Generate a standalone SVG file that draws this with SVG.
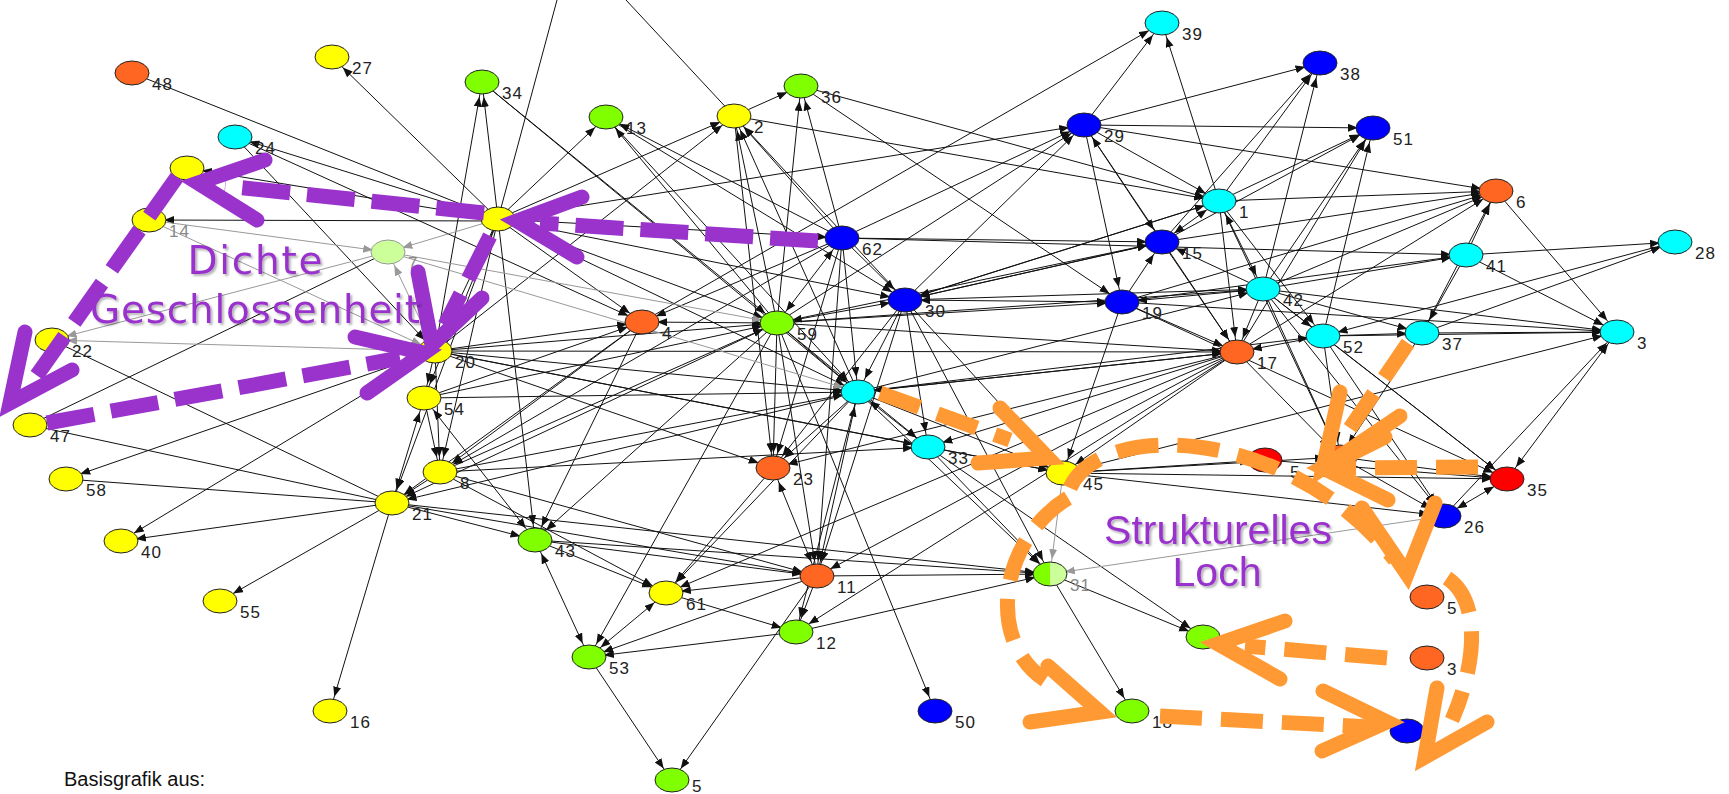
<svg xmlns="http://www.w3.org/2000/svg" width="1729" height="794" viewBox="0 0 1729 794">
<style>
.e{stroke:#111;stroke-width:1;marker-end:url(#ar)}
.b{stroke:#111;stroke-width:1;marker-end:url(#ar);marker-start:url(#ar)}
.n{stroke:#111;stroke-width:1}
.g{stroke:#999;stroke-width:1;marker-end:url(#ag)}
ellipse{stroke:#222;stroke-width:1}
.y{fill:#FFFF00}.o{fill:#FF6622}.gr{fill:#80FF00}.c{fill:#00FFFF}.bl{fill:#0000FF}.r{fill:#FF0000}
text.l{font-family:"Liberation Sans",Arial,sans-serif;font-size:17px;letter-spacing:1px;fill:#222}
text.lg{fill:#888}
.pd{fill:none;stroke:#9933CC;stroke-width:15;stroke-dasharray:48 17}
.pc{fill:none;stroke:#9933CC;stroke-width:15;stroke-linecap:round;stroke-linejoin:miter}
.od{fill:none;stroke:#FF9933;stroke-width:15;stroke-dasharray:42 19}
.oc{fill:none;stroke:#FF9933;stroke-width:15;stroke-linecap:round;stroke-linejoin:miter}
.pt{font-family:"DejaVu Sans",sans-serif;font-size:39px;fill:#9933CC;filter:url(#sh)}
.st{font-family:"Liberation Sans",Arial,sans-serif;font-size:41px;fill:#9933CC;filter:url(#sh)}
</style>
<defs>
<marker id="ar" markerUnits="userSpaceOnUse" markerWidth="30" markerHeight="10" refX="25" refY="4" orient="auto-start-reverse"><path d="M0,0 L10,4 L0,8 z" fill="#111"/></marker>
<marker id="ag" markerUnits="userSpaceOnUse" markerWidth="30" markerHeight="10" refX="25" refY="4" orient="auto"><path d="M0,0 L10,4 L0,8 z" fill="#999"/></marker>
<linearGradient id="half" x1="0" x2="1" y1="0" y2="0"><stop offset="0.5" stop-color="#80FF00"/><stop offset="0.5" stop-color="#CCFF99"/></linearGradient>
<filter id="sh" x="-10%" y="-20%" width="120%" height="150%"><feDropShadow dx="2" dy="2" stdDeviation="1.2" flood-color="#000" flood-opacity="0.3"/></filter>
</defs>
<rect width="1729" height="794" fill="#fff"/>
<g id="edges">
<line class="n" x1="132" y1="73" x2="498" y2="219"/>
<line class="n" x1="30" y1="425" x2="388" y2="252"/>
<line class="n" x1="30" y1="425" x2="392" y2="503"/>
<line class="n" x1="52" y1="340" x2="392" y2="503"/>
<line class="n" x1="66" y1="479" x2="392" y2="503"/>
<line class="n" x1="557" y1="0" x2="498" y2="219"/>
<line class="n" x1="626" y1="0" x2="734" y2="116"/>
<line class="e" x1="498" y1="219" x2="332" y2="57"/>
<line class="e" x1="498" y1="219" x2="235" y2="137"/>
<line class="e" x1="235" y1="137" x2="642" y2="322"/>
<line class="e" x1="498" y1="219" x2="187" y2="168"/>
<line class="e" x1="498" y1="221" x2="149" y2="220"/>
<line class="e" x1="235" y1="137" x2="435" y2="351"/>
<line class="e" x1="435" y1="351" x2="66" y2="479"/>
<line class="e" x1="435" y1="351" x2="121" y2="541"/>
<line class="e" x1="392" y1="503" x2="121" y2="541"/>
<line class="e" x1="392" y1="503" x2="220" y2="601"/>
<line class="e" x1="392" y1="503" x2="330" y2="711"/>
<line class="e" x1="440" y1="472" x2="392" y2="503"/>
<line class="e" x1="642" y1="322" x2="392" y2="503"/>
<line class="e" x1="777" y1="323" x2="392" y2="503"/>
<line class="e" x1="858" y1="392" x2="392" y2="503"/>
<line class="e" x1="392" y1="503" x2="535" y2="540"/>
<line class="e" x1="392" y1="503" x2="817" y2="576"/>
<line class="e" x1="392" y1="503" x2="1050" y2="574"/>
<line class="e" x1="498" y1="219" x2="435" y2="351"/>
<line class="e" x1="498" y1="219" x2="424" y2="398"/>
<line class="e" x1="498" y1="219" x2="440" y2="472"/>
<line class="e" x1="498" y1="219" x2="392" y2="503"/>
<line class="e" x1="498" y1="219" x2="535" y2="540"/>
<line class="e" x1="435" y1="351" x2="482" y2="82"/>
<line class="e" x1="498" y1="219" x2="482" y2="82"/>
<line class="e" x1="498" y1="219" x2="606" y2="117"/>
<line class="e" x1="498" y1="219" x2="734" y2="116"/>
<line class="e" x1="498" y1="219" x2="642" y2="322"/>
<line class="e" x1="498" y1="219" x2="777" y2="323"/>
<line class="e" x1="498" y1="219" x2="858" y2="392"/>
<line class="e" x1="498" y1="219" x2="905" y2="300"/>
<line class="e" x1="498" y1="219" x2="1084" y2="125"/>
<line class="e" x1="435" y1="351" x2="642" y2="322"/>
<line class="e" x1="435" y1="351" x2="777" y2="323"/>
<line class="e" x1="435" y1="351" x2="858" y2="392"/>
<line class="e" x1="435" y1="351" x2="773" y2="468"/>
<line class="e" x1="435" y1="351" x2="928" y2="447"/>
<line class="e" x1="435" y1="351" x2="1063" y2="473"/>
<line class="e" x1="435" y1="351" x2="1237" y2="352"/>
<line class="e" x1="435" y1="351" x2="734" y2="116"/>
<line class="e" x1="424" y1="398" x2="858" y2="392"/>
<line class="e" x1="424" y1="398" x2="642" y2="322"/>
<line class="e" x1="424" y1="398" x2="777" y2="323"/>
<line class="e" x1="440" y1="472" x2="858" y2="392"/>
<line class="e" x1="440" y1="472" x2="928" y2="447"/>
<line class="e" x1="440" y1="472" x2="777" y2="323"/>
<line class="e" x1="642" y1="322" x2="440" y2="472"/>
<line class="e" x1="440" y1="472" x2="817" y2="576"/>
<line class="e" x1="440" y1="472" x2="666" y2="593"/>
<line class="e" x1="424" y1="398" x2="440" y2="472"/>
<line class="e" x1="435" y1="351" x2="424" y2="398"/>
<line class="e" x1="435" y1="351" x2="440" y2="472"/>
<line class="e" x1="842" y1="238" x2="642" y2="322"/>
<line class="e" x1="642" y1="322" x2="1162" y2="23"/>
<line class="e" x1="642" y1="322" x2="535" y2="540"/>
<line class="e" x1="777" y1="323" x2="734" y2="116"/>
<line class="e" x1="842" y1="238" x2="734" y2="116"/>
<line class="e" x1="858" y1="392" x2="734" y2="116"/>
<line class="e" x1="777" y1="323" x2="606" y2="117"/>
<line class="e" x1="842" y1="238" x2="606" y2="117"/>
<line class="e" x1="606" y1="117" x2="858" y2="392"/>
<line class="e" x1="606" y1="117" x2="905" y2="300"/>
<line class="e" x1="734" y1="116" x2="801" y2="86"/>
<line class="e" x1="777" y1="323" x2="801" y2="86"/>
<line class="e" x1="842" y1="238" x2="801" y2="86"/>
<line class="e" x1="801" y1="86" x2="1219" y2="201"/>
<line class="e" x1="801" y1="86" x2="1122" y2="302"/>
<line class="e" x1="482" y1="82" x2="777" y2="323"/>
<line class="e" x1="482" y1="82" x2="858" y2="392"/>
<line class="e" x1="734" y1="116" x2="1219" y2="201"/>
<line class="e" x1="777" y1="323" x2="858" y2="392"/>
<line class="e" x1="777" y1="323" x2="773" y2="468"/>
<line class="e" x1="734" y1="116" x2="773" y2="468"/>
<line class="e" x1="777" y1="323" x2="817" y2="576"/>
<line class="e" x1="777" y1="323" x2="935" y2="711"/>
<line class="e" x1="777" y1="323" x2="1162" y2="242"/>
<line class="e" x1="777" y1="323" x2="1122" y2="302"/>
<line class="e" x1="777" y1="323" x2="1084" y2="125"/>
<line class="e" x1="777" y1="323" x2="535" y2="540"/>
<line class="e" x1="777" y1="323" x2="589" y2="657"/>
<line class="e" x1="777" y1="323" x2="928" y2="447"/>
<line class="e" x1="777" y1="323" x2="1263" y2="289"/>
<line class="e" x1="777" y1="323" x2="1237" y2="352"/>
<line class="e" x1="842" y1="238" x2="905" y2="300"/>
<line class="e" x1="842" y1="238" x2="858" y2="392"/>
<line class="e" x1="842" y1="238" x2="1084" y2="125"/>
<line class="e" x1="842" y1="238" x2="1162" y2="242"/>
<line class="e" x1="842" y1="238" x2="1466" y2="255"/>
<line class="e" x1="842" y1="238" x2="440" y2="472"/>
<line class="e" x1="842" y1="238" x2="817" y2="576"/>
<line class="e" x1="842" y1="238" x2="773" y2="468"/>
<line class="e" x1="858" y1="392" x2="773" y2="468"/>
<line class="e" x1="858" y1="392" x2="1063" y2="473"/>
<line class="e" x1="858" y1="392" x2="1237" y2="352"/>
<line class="e" x1="858" y1="392" x2="1323" y2="336"/>
<line class="e" x1="858" y1="392" x2="1263" y2="289"/>
<line class="e" x1="905" y1="300" x2="858" y2="392"/>
<line class="e" x1="858" y1="392" x2="666" y2="593"/>
<line class="e" x1="858" y1="392" x2="796" y2="632"/>
<line class="e" x1="858" y1="392" x2="1050" y2="574"/>
<line class="e" x1="905" y1="300" x2="1162" y2="242"/>
<line class="e" x1="905" y1="300" x2="1263" y2="289"/>
<line class="e" x1="905" y1="300" x2="1084" y2="125"/>
<line class="e" x1="905" y1="300" x2="817" y2="576"/>
<line class="e" x1="905" y1="300" x2="1050" y2="574"/>
<line class="e" x1="905" y1="300" x2="1063" y2="473"/>
<line class="e" x1="905" y1="300" x2="928" y2="447"/>
<line class="e" x1="905" y1="300" x2="734" y2="116"/>
<line class="e" x1="905" y1="300" x2="1219" y2="201"/>
<line class="e" x1="905" y1="300" x2="773" y2="468"/>
<line class="e" x1="1084" y1="125" x2="1162" y2="23"/>
<line class="e" x1="1084" y1="125" x2="1320" y2="63"/>
<line class="e" x1="1084" y1="125" x2="1373" y2="128"/>
<line class="e" x1="1084" y1="125" x2="1496" y2="191"/>
<line class="e" x1="1084" y1="125" x2="1122" y2="302"/>
<line class="e" x1="1084" y1="125" x2="1219" y2="201"/>
<line class="e" x1="1084" y1="125" x2="1237" y2="352"/>
<line class="e" x1="1219" y1="201" x2="1162" y2="23"/>
<line class="e" x1="1219" y1="201" x2="1320" y2="63"/>
<line class="e" x1="1219" y1="201" x2="1373" y2="128"/>
<line class="e" x1="1219" y1="201" x2="1496" y2="191"/>
<line class="e" x1="1219" y1="201" x2="1237" y2="352"/>
<line class="e" x1="1219" y1="201" x2="1340" y2="457"/>
<line class="e" x1="1219" y1="201" x2="1323" y2="336"/>
<line class="e" x1="1219" y1="201" x2="905" y2="300"/>
<line class="e" x1="1162" y1="242" x2="1320" y2="63"/>
<line class="e" x1="1162" y1="242" x2="1373" y2="128"/>
<line class="e" x1="1162" y1="242" x2="1496" y2="191"/>
<line class="e" x1="1162" y1="242" x2="905" y2="300"/>
<line class="e" x1="1122" y1="302" x2="1162" y2="242"/>
<line class="e" x1="1162" y1="242" x2="1237" y2="352"/>
<line class="e" x1="1263" y1="289" x2="1162" y2="242"/>
<line class="e" x1="1263" y1="289" x2="1373" y2="128"/>
<line class="e" x1="1237" y1="352" x2="1373" y2="128"/>
<line class="e" x1="1323" y1="336" x2="1373" y2="128"/>
<line class="e" x1="1263" y1="289" x2="1320" y2="63"/>
<line class="e" x1="1263" y1="289" x2="1496" y2="191"/>
<line class="e" x1="1263" y1="289" x2="1466" y2="255"/>
<line class="e" x1="1263" y1="289" x2="1237" y2="352"/>
<line class="e" x1="1263" y1="289" x2="1122" y2="302"/>
<line class="e" x1="1263" y1="289" x2="1323" y2="336"/>
<line class="e" x1="1263" y1="289" x2="1422" y2="333"/>
<line class="e" x1="1263" y1="289" x2="1340" y2="457"/>
<line class="e" x1="1263" y1="289" x2="1444" y2="516"/>
<line class="e" x1="1263" y1="289" x2="1507" y2="479"/>
<line class="e" x1="1263" y1="289" x2="1617" y2="332"/>
<line class="e" x1="1122" y1="302" x2="1237" y2="352"/>
<line class="e" x1="1122" y1="302" x2="1466" y2="255"/>
<line class="e" x1="1122" y1="302" x2="1496" y2="191"/>
<line class="e" x1="1122" y1="302" x2="1617" y2="332"/>
<line class="e" x1="1122" y1="302" x2="1507" y2="479"/>
<line class="e" x1="1122" y1="302" x2="1063" y2="473"/>
<line class="e" x1="1237" y1="352" x2="817" y2="576"/>
<line class="e" x1="1237" y1="352" x2="1063" y2="473"/>
<line class="e" x1="1237" y1="352" x2="773" y2="468"/>
<line class="e" x1="1237" y1="352" x2="928" y2="447"/>
<line class="e" x1="1237" y1="352" x2="666" y2="593"/>
<line class="e" x1="1237" y1="352" x2="796" y2="632"/>
<line class="e" x1="1237" y1="352" x2="858" y2="392"/>
<line class="e" x1="1237" y1="352" x2="1340" y2="457"/>
<line class="e" x1="1237" y1="352" x2="1496" y2="191"/>
<line class="e" x1="1323" y1="336" x2="1422" y2="333"/>
<line class="e" x1="1323" y1="336" x2="1617" y2="332"/>
<line class="e" x1="1323" y1="336" x2="1507" y2="479"/>
<line class="e" x1="1323" y1="336" x2="1444" y2="516"/>
<line class="e" x1="1323" y1="336" x2="1340" y2="457"/>
<line class="e" x1="1323" y1="336" x2="1237" y2="352"/>
<line class="e" x1="1422" y1="333" x2="1617" y2="332"/>
<line class="e" x1="1422" y1="333" x2="1675" y2="242"/>
<line class="e" x1="1422" y1="333" x2="1340" y2="457"/>
<line class="e" x1="1422" y1="333" x2="1496" y2="191"/>
<line class="e" x1="1466" y1="255" x2="1675" y2="242"/>
<line class="e" x1="1466" y1="255" x2="1422" y2="333"/>
<line class="e" x1="1466" y1="255" x2="1496" y2="191"/>
<line class="e" x1="1466" y1="255" x2="1617" y2="332"/>
<line class="e" x1="1675" y1="242" x2="1323" y2="336"/>
<line class="e" x1="1496" y1="191" x2="1617" y2="332"/>
<line class="e" x1="1340" y1="457" x2="1507" y2="479"/>
<line class="e" x1="1340" y1="457" x2="1444" y2="516"/>
<line class="e" x1="1063" y1="473" x2="1340" y2="457"/>
<line class="e" x1="1063" y1="473" x2="1265" y2="460"/>
<line class="e" x1="1063" y1="473" x2="1444" y2="516"/>
<line class="e" x1="1063" y1="473" x2="1507" y2="479"/>
<line class="e" x1="1063" y1="473" x2="1617" y2="332"/>
<line class="e" x1="928" y1="447" x2="1063" y2="473"/>
<line class="e" x1="928" y1="447" x2="1203" y2="637"/>
<line class="e" x1="928" y1="447" x2="1050" y2="574"/>
<line class="e" x1="1050" y1="574" x2="1132" y2="711"/>
<line class="e" x1="1050" y1="574" x2="1203" y2="637"/>
<line class="e" x1="817" y1="576" x2="796" y2="632"/>
<line class="e" x1="817" y1="576" x2="672" y2="781"/>
<line class="e" x1="817" y1="576" x2="589" y2="657"/>
<line class="e" x1="817" y1="576" x2="666" y2="593"/>
<line class="e" x1="817" y1="576" x2="1050" y2="574"/>
<line class="e" x1="796" y1="632" x2="589" y2="657"/>
<line class="e" x1="666" y1="593" x2="796" y2="632"/>
<line class="e" x1="796" y1="632" x2="1050" y2="574"/>
<line class="e" x1="535" y1="540" x2="666" y2="593"/>
<line class="e" x1="535" y1="540" x2="817" y2="576"/>
<line class="e" x1="535" y1="540" x2="1050" y2="574"/>
<line class="e" x1="589" y1="657" x2="672" y2="781"/>
<line class="e" x1="773" y1="468" x2="666" y2="593"/>
<line class="e" x1="1265" y1="460" x2="1507" y2="479"/>
<line class="e" x1="1444" y1="516" x2="1617" y2="332"/>
<line class="b" x1="1617" y1="332" x2="1507" y2="479"/>
<line class="b" x1="1507" y1="479" x2="1444" y2="516"/>
<line class="b" x1="424" y1="398" x2="392" y2="503"/>
<line class="b" x1="424" y1="398" x2="535" y2="540"/>
<line class="b" x1="535" y1="540" x2="589" y2="657"/>
<line class="b" x1="666" y1="593" x2="589" y2="657"/>
<line class="b" x1="642" y1="322" x2="777" y2="323"/>
<line class="b" x1="777" y1="323" x2="842" y2="238"/>
<line class="b" x1="777" y1="323" x2="905" y2="300"/>
<line class="b" x1="905" y1="300" x2="1122" y2="302"/>
<line class="b" x1="1084" y1="125" x2="1162" y2="242"/>
<line class="b" x1="1219" y1="201" x2="1162" y2="242"/>
<line class="b" x1="1219" y1="201" x2="1263" y2="289"/>
<line class="b" x1="858" y1="392" x2="928" y2="447"/>
<line class="b" x1="817" y1="576" x2="773" y2="468"/>
<line class="b" x1="817" y1="576" x2="858" y2="392"/>
<line class="b" x1="498" y1="219" x2="842" y2="238"/>
<line class="g" x1="149" y1="220" x2="388" y2="252"/>
<line class="g" x1="149" y1="220" x2="435" y2="351"/>
<line class="g" x1="388" y1="252" x2="52" y2="340"/>
<line class="g" x1="435" y1="351" x2="388" y2="252"/>
<line class="g" x1="388" y1="252" x2="777" y2="323"/>
<line class="g" x1="388" y1="252" x2="858" y2="392"/>
<line class="g" x1="435" y1="351" x2="52" y2="340"/>
<line class="g" x1="1063" y1="473" x2="1050" y2="574"/>
<line class="g" x1="1444" y1="516" x2="1050" y2="574"/>
<line class="g" x1="498" y1="219" x2="388" y2="252"/>
</g>
<g id="n48"><ellipse class="o" cx="132" cy="73" rx="17" ry="12"/><text class="l" x="152" y="90">48</text></g>
<g id="n27"><ellipse class="y" cx="332" cy="57" rx="17" ry="12"/><text class="l" x="352" y="74">27</text></g>
<g id="n24"><ellipse class="c" cx="235" cy="137" rx="17" ry="12"/><text class="l" x="255" y="154">24</text></g>
<g id="nA"><ellipse class="y" cx="187" cy="168" rx="17" ry="12"/></g>
<g id="n14"><ellipse class="y" cx="149" cy="220" rx="17" ry="12"/><text class="l lg" x="169" y="237">14</text></g>
<g id="n7"><ellipse cx="388" cy="252" rx="17" ry="12" fill="#CCFF99" style="stroke:#999"/><text class="l lg" x="408" y="269">7</text></g>
<g id="n34"><ellipse class="gr" cx="482" cy="82" rx="17" ry="12"/><text class="l" x="502" y="99">34</text></g>
<g id="n13"><ellipse class="gr" cx="606" cy="117" rx="17" ry="12"/><text class="l" x="626" y="134">13</text></g>
<g id="n2"><ellipse class="y" cx="734" cy="116" rx="17" ry="12"/><text class="l" x="754" y="133">2</text></g>
<g id="n36"><ellipse class="gr" cx="801" cy="86" rx="17" ry="12"/><text class="l" x="821" y="103">36</text></g>
<g id="nH"><ellipse class="y" cx="498" cy="219" rx="17" ry="12"/></g>
<g id="n62"><ellipse class="bl" cx="842" cy="238" rx="17" ry="12"/><text class="l" x="862" y="255">62</text></g>
<g id="n39"><ellipse class="c" cx="1162" cy="23" rx="17" ry="12"/><text class="l" x="1182" y="40">39</text></g>
<g id="n29"><ellipse class="bl" cx="1084" cy="125" rx="17" ry="12"/><text class="l" x="1104" y="142">29</text></g>
<g id="n1"><ellipse class="c" cx="1219" cy="201" rx="17" ry="12"/><text class="l" x="1239" y="218">1</text></g>
<g id="n15"><ellipse class="bl" cx="1162" cy="242" rx="17" ry="12"/><text class="l" x="1182" y="259">15</text></g>
<g id="n38"><ellipse class="bl" cx="1320" cy="63" rx="17" ry="12"/><text class="l" x="1340" y="80">38</text></g>
<g id="n51"><ellipse class="bl" cx="1373" cy="128" rx="17" ry="12"/><text class="l" x="1393" y="145">51</text></g>
<g id="n6"><ellipse class="o" cx="1496" cy="191" rx="17" ry="12"/><text class="l" x="1516" y="208">6</text></g>
<g id="n28"><ellipse class="c" cx="1675" cy="242" rx="17" ry="12"/><text class="l" x="1695" y="259">28</text></g>
<g id="n41"><ellipse class="c" cx="1466" cy="255" rx="17" ry="12"/><text class="l" x="1486" y="272">41</text></g>
<g id="n22"><ellipse class="y" cx="52" cy="340" rx="17" ry="12"/><text class="l" x="72" y="357">22</text></g>
<g id="n47"><ellipse class="y" cx="30" cy="425" rx="17" ry="12"/><text class="l" x="50" y="442">47</text></g>
<g id="n58"><ellipse class="y" cx="66" cy="479" rx="17" ry="12"/><text class="l" x="86" y="496">58</text></g>
<g id="n21"><ellipse class="y" cx="392" cy="503" rx="17" ry="12"/><text class="l" x="412" y="520">21</text></g>
<g id="n20"><ellipse class="y" cx="435" cy="351" rx="17" ry="12"/><text class="l" x="455" y="368">20</text></g>
<g id="n54"><ellipse class="y" cx="424" cy="398" rx="17" ry="12"/><text class="l" x="444" y="415">54</text></g>
<g id="n8"><ellipse class="y" cx="440" cy="472" rx="17" ry="12"/><text class="l" x="460" y="489">8</text></g>
<g id="n4"><ellipse class="o" cx="642" cy="322" rx="17" ry="12"/><text class="l" x="662" y="339">4</text></g>
<g id="n59"><ellipse class="gr" cx="777" cy="323" rx="17" ry="12"/><text class="l" x="797" y="340">59</text></g>
<g id="n23"><ellipse class="o" cx="773" cy="468" rx="17" ry="12"/><text class="l" x="793" y="485">23</text></g>
<g id="nC"><ellipse class="c" cx="858" cy="392" rx="17" ry="12"/></g>
<g id="n30"><ellipse class="bl" cx="905" cy="300" rx="17" ry="12"/><text class="l" x="925" y="317">30</text></g>
<g id="n19"><ellipse class="bl" cx="1122" cy="302" rx="17" ry="12"/><text class="l" x="1142" y="319">19</text></g>
<g id="n42"><ellipse class="c" cx="1263" cy="289" rx="17" ry="12"/><text class="l" x="1283" y="306">42</text></g>
<g id="n17"><ellipse class="o" cx="1237" cy="352" rx="17" ry="12"/><text class="l" x="1257" y="369">17</text></g>
<g id="n33"><ellipse class="c" cx="928" cy="447" rx="17" ry="12"/><text class="l" x="948" y="464">33</text></g>
<g id="n45"><ellipse class="y" cx="1063" cy="473" rx="17" ry="12"/><text class="l" x="1083" y="490">45</text></g>
<g id="nR"><ellipse class="r" cx="1265" cy="460" rx="17" ry="12"/><text class="l" x="1290" y="478">5</text></g>
<g id="n52"><ellipse class="c" cx="1323" cy="336" rx="17" ry="12"/><text class="l" x="1343" y="353">52</text></g>
<g id="n37"><ellipse class="c" cx="1422" cy="333" rx="17" ry="12"/><text class="l" x="1442" y="350">37</text></g>
<g id="n3"><ellipse class="c" cx="1617" cy="332" rx="17" ry="12"/><text class="l" x="1637" y="349">3</text></g>
<g id="n35"><ellipse class="r" cx="1507" cy="479" rx="17" ry="12"/><text class="l" x="1527" y="496">35</text></g>
<g id="n26"><ellipse class="bl" cx="1444" cy="516" rx="17" ry="12"/><text class="l" x="1464" y="533">26</text></g>
<g id="n10"><ellipse class="o" cx="1340" cy="457" rx="17" ry="12"/><text class="l" x="1379" y="475">0</text></g>
<g id="n40"><ellipse class="y" cx="121" cy="541" rx="17" ry="12"/><text class="l" x="141" y="558">40</text></g>
<g id="n55"><ellipse class="y" cx="220" cy="601" rx="17" ry="12"/><text class="l" x="240" y="618">55</text></g>
<g id="n16"><ellipse class="y" cx="330" cy="711" rx="17" ry="12"/><text class="l" x="350" y="728">16</text></g>
<g id="n43"><ellipse class="gr" cx="535" cy="540" rx="17" ry="12"/><text class="l" x="555" y="557">43</text></g>
<g id="n61"><ellipse class="y" cx="666" cy="593" rx="17" ry="12"/><text class="l" x="686" y="610">61</text></g>
<g id="n11"><ellipse class="o" cx="817" cy="576" rx="17" ry="12"/><text class="l" x="837" y="593">11</text></g>
<g id="n12"><ellipse class="gr" cx="796" cy="632" rx="17" ry="12"/><text class="l" x="816" y="649">12</text></g>
<g id="n53"><ellipse class="gr" cx="589" cy="657" rx="17" ry="12"/><text class="l" x="609" y="674">53</text></g>
<g id="n5"><ellipse class="gr" cx="672" cy="780" rx="17" ry="12"/><text class="l" x="692" y="792">5</text></g>
<g id="n31"><ellipse cx="1050" cy="574" rx="17" ry="12" fill="url(#half)"/><text class="l lg" x="1070" y="591">31</text></g>
<g id="n50"><ellipse class="bl" cx="935" cy="711" rx="17" ry="12"/><text class="l" x="955" y="728">50</text></g>
<g id="n18"><ellipse class="gr" cx="1132" cy="711" rx="17" ry="12"/><text class="l" x="1152" y="728">18</text></g>
<g id="nG"><ellipse class="gr" cx="1203" cy="637" rx="17" ry="12"/></g>
<g id="nO1"><ellipse class="o" cx="1427" cy="597" rx="17" ry="12"/><text class="l" x="1447" y="614">5</text></g>
<g id="nO2"><ellipse class="o" cx="1427" cy="658" rx="17" ry="12"/><text class="l" x="1447" y="675">3</text></g>
<g id="nB"><ellipse class="bl" cx="1407" cy="731" rx="17" ry="12"/></g>
<g id="overlay-orange">
<path class="od" d="M880,393 L1010,440"/>
<path class="oc" d="M1000,408 L1048,458 L978,463"/>
<path class="od" d="M1070,488 C1100,420 1290,425 1395,560"/>
<path class="oc" d="M1362,508 L1407,574 L1435,503"/>
<path class="od" d="M1068,498 C1000,540 985,640 1045,680"/>
<path class="oc" d="M1048,666 L1100,712 L1030,722"/>
<path class="od" d="M1408,343 L1342,440"/>
<path class="oc" d="M1340,392 L1323,468 L1400,416"/>
<path class="od" d="M1478,467 L1340,468"/>
<path class="oc" d="M1385,437 L1323,468 L1388,500"/>
<path class="od" d="M1447,578 C1480,600 1478,660 1452,720"/>
<path class="oc" d="M1437,688 L1425,757 L1487,722"/>
<path class="od" d="M1387,658 L1245,646"/>
<path class="oc" d="M1285,621 L1218,644 L1280,679"/>
<path class="od" d="M1160,716 L1370,727"/>
<path class="oc" d="M1323,691 L1387,722 L1322,751"/>
</g>
<g id="overlay-purple">
<path class="pd" d="M818,241 L540,223"/>
<path class="pc" d="M582,197 L517,221 L577,257"/>
<path class="pd" d="M484,213 L225,186"/>
<path class="pc" d="M265,160 L198,183 L257,220"/>
<path class="pd" d="M177,177 L30,385"/>
<path class="pc" d="M25,332 L10,403 L72,370"/>
<path class="pd" d="M47,423 L400,358"/>
<path class="pc" d="M355,337 L424,353 L367,393"/>
<path class="pd" d="M490,236 L445,325"/>
<path class="pc" d="M418,272 L432,345 L482,298"/>
</g>
<g id="labels">
<text class="pt" x="255" y="274" text-anchor="middle" textLength="135">Dichte</text>
<text class="pt" x="255" y="323" text-anchor="middle" textLength="330">Geschlossenheit</text>
<text class="st" x="1218" y="544" text-anchor="middle">Strukturelles</text>
<text class="st" x="1217" y="586" text-anchor="middle">Loch</text>
<text x="64" y="786" font-family="Liberation Sans, Arial, sans-serif" font-size="20" fill="#111">Basisgrafik aus:</text>
</g>
</svg>
